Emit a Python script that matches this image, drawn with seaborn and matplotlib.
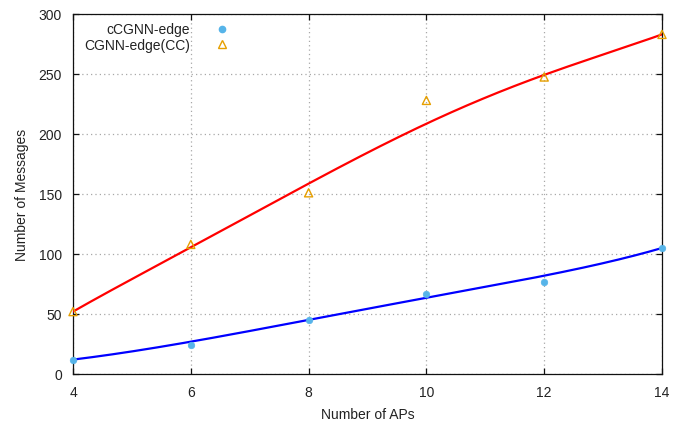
import numpy as np
import pandas as pd
import matplotlib
matplotlib.use("Agg")
import matplotlib.pyplot as plt
from matplotlib.lines import Line2D
import seaborn as sns
from math import comb

# Measured message counts per number of access points
num_aps = [4, 6, 8, 10, 12, 14]
msgs_cgnn_edge = [12, 24, 45, 67, 76.5, 105]
msgs_cgnn_edge_cc = [52, 108, 151, 228, 247.5, 283]

series_labels = ["cCGNN-edge", "CGNN-edge(CC)"]
x_ticks = [4, 6, 8, 10, 12, 14]
y_ticks = [0, 50, 100, 150, 200, 250, 300]


def bezier(xs, ys, n=300):
    """Bezier smoothing curve using the data points as control points."""
    xs = np.asarray(xs, float)
    ys = np.asarray(ys, float)
    deg = len(xs) - 1
    t = np.linspace(0.0, 1.0, n)
    basis = np.array([comb(deg, k) * t**k * (1 - t)**(deg - k) for k in range(deg + 1)])
    return basis.T @ xs, basis.T @ ys


sns.set_style("white")
plt.rcParams["font.family"] = ["Liberation Sans", "DejaVu Sans"]

fig = plt.figure(figsize=(6.81, 4.27), dpi=100)
ax = fig.add_axes([73 / 681, 1 - 375 / 427, (662 - 73) / 681, (375 - 15) / 427])

text_color = "#222222"
fs = 10

# smoothed curves
bx, by = bezier(num_aps, msgs_cgnn_edge)
rx, ry = bezier(num_aps, msgs_cgnn_edge_cc)
curves = pd.concat([
    pd.DataFrame({"aps": bx, "msgs": by, "series": series_labels[0]}),
    pd.DataFrame({"aps": rx, "msgs": ry, "series": series_labels[1]}),
])
sns.lineplot(data=curves, x="aps", y="msgs", hue="series", sort=False,
             palette={series_labels[0]: "#0000ff", series_labels[1]: "#ff0000"},
             linewidth=1.6, legend=False, ax=ax, zorder=3)

# data points
pts_a = pd.DataFrame({"aps": num_aps, "msgs": msgs_cgnn_edge})
pts_b = pd.DataFrame({"aps": num_aps, "msgs": msgs_cgnn_edge_cc})
sns.scatterplot(data=pts_a, x="aps", y="msgs", marker="o", s=22,
                color="#56b4e9", edgecolor="#56b4e9", linewidth=0.5,
                ax=ax, zorder=4, clip_on=False)
sns.scatterplot(data=pts_b, x="aps", y="msgs", marker="^", s=34,
                facecolor="none", edgecolor="#e69f00", linewidth=1.0,
                ax=ax, zorder=4, clip_on=False)

ax.set_xlim(4, 14)
ax.set_ylim(0, 300)
ax.set_xticks(x_ticks)
ax.set_yticks(y_ticks)
ax.set_xticklabels([str(v) for v in x_ticks])
ax.set_yticklabels([str(v) for v in y_ticks])

ax.grid(True, color="#a8a8a8", linestyle=(0, (1, 2.5)), linewidth=0.9)
ax.set_axisbelow(True)

for side in ["left", "right", "top", "bottom"]:
    ax.spines[side].set_visible(True)
    ax.spines[side].set_color("#111111")
    ax.spines[side].set_linewidth(0.9)

ax.tick_params(axis="both", which="major", direction="in", length=4, width=0.9,
               color="#111111", top=True, right=True, bottom=True, left=True,
               labelsize=fs, labelcolor=text_color, pad=8)

ax.set_xlabel("Number of APs", fontsize=fs, color=text_color, labelpad=6)
ax.set_ylabel("Number of Messages", fontsize=fs, color=text_color, labelpad=7)

handles = [
    Line2D([], [], linestyle="none", marker="o", markersize=4.5,
           markerfacecolor="#56b4e9", markeredgecolor="#56b4e9"),
    Line2D([], [], linestyle="none", marker="^", markersize=6,
           markerfacecolor="none", markeredgecolor="#e69f00", markeredgewidth=1.0),
]
leg = ax.legend(handles, series_labels, loc="upper left",
                bbox_to_anchor=(0.01, 0.992), frameon=False, markerfirst=False,
                fontsize=fs, handlelength=2.0, handletextpad=1.3,
                labelspacing=0.12, borderaxespad=0.0)
for t in leg.get_texts():
    t.set_color(text_color)

fig.savefig("out.png", dpi=100)
